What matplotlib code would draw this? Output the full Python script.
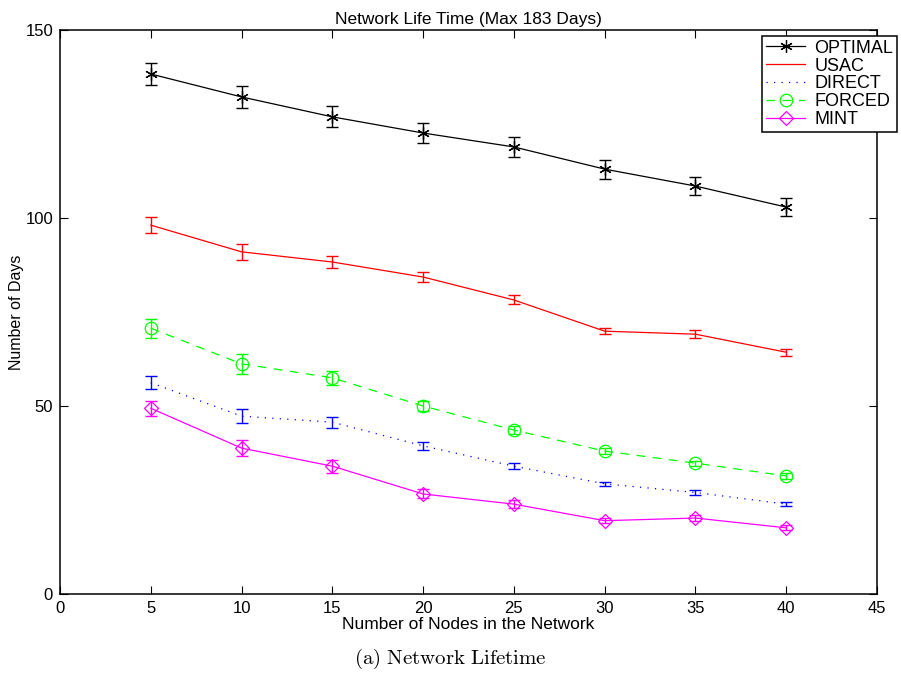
import numpy as np
import matplotlib
matplotlib.use("Agg")
import matplotlib.pyplot as plt

plt.rcParams['font.family'] = ['Liberation Sans', 'DejaVu Sans']
plt.rcParams['mathtext.fontset'] = 'cm'

## number of nodes
nodes = [5, 10, 15, 20, 25, 30, 35, 40]

## mean lifetime (days) and error half-widths
optimal = [138.3, 132.2, 126.9, 122.6, 118.9, 113.0, 108.5, 102.9]
optimal_err = [2.9, 2.9, 2.8, 2.7, 2.6, 2.5, 2.4, 2.3]
usac = [98.1, 91.0, 88.3, 84.3, 78.2, 69.9, 69.1, 64.3]
usac_err = [2.1, 2.1, 1.7, 1.4, 1.2, 0.8, 1.0, 0.9]
direct = [56.2, 47.3, 45.7, 39.4, 34.0, 29.3, 27.0, 23.9]
direct_err = [1.7, 1.9, 1.5, 1.0, 0.8, 0.6, 0.6, 0.5]
forced = [70.7, 61.2, 57.5, 50.0, 43.6, 38.0, 34.8, 31.4]
forced_err = [2.5, 2.6, 1.9, 1.3, 1.0, 0.8, 0.7, 0.7]
mint = [49.4, 38.8, 34.0, 26.6, 23.9, 19.5, 20.2, 17.6]
mint_err = [2.0, 2.1, 1.7, 1.2, 1.0, 0.7, 0.8, 0.7]

## matlab-ish line styles
dotted = (0, (1, 5))
dashed = (0, (7, 6))
series = [
    ("OPTIMAL", optimal, optimal_err, "black", "-", (6, 2, 0)),
    ("USAC", usac, usac_err, "#ff0000", "-", None),
    ("DIRECT", direct, direct_err, "#0000ff", dotted, None),
    ("FORCED", forced, forced_err, "#00ff00", dashed, "o"),
    ("MINT", mint, mint_err, "#ff00ff", "-", "D"),
]

fig = plt.figure(figsize=(9.01, 6.77), dpi=100)
ax = fig.add_axes([60/901, 1-594/677, 817/901, 564/677])

handles = []
for name, vals, err, col, ls, mk in series:
    ms = {"o": 9, "D": 7}.get(mk, 9) if mk is not None else 0
    ax.errorbar(nodes, vals, yerr=err, color=col, ecolor=col, linestyle="none",
                elinewidth=1.0, capsize=4.5, capthick=1.0)
    h, = ax.plot(nodes, vals, color=col, linestyle=ls, linewidth=0.9,
                 marker=mk, markersize=ms, markerfacecolor="none",
                 markeredgecolor=col, markeredgewidth=0.9, label=name)
    handles.append(h)

ax.set_xlim(0, 45)
ax.set_ylim(0, 150)
ax.set_xticks(np.arange(0, 46, 5))
ax.set_yticks([0, 50, 100, 150])
ax.tick_params(direction="in", top=True, right=True, length=6, labelsize=12, pad=5)
for s in ax.spines.values():
    s.set_linewidth(1.1)

ax.set_title("Network Life Time (Max 183 Days)", fontsize=12.5, pad=4)
ax.set_xlabel("Number of Nodes in the Network", fontsize=12.5, labelpad=1)
ax.set_ylabel("Number of Days", fontsize=11.5, labelpad=1)

leg = ax.legend(handles=handles, loc="upper right",
                bbox_to_anchor=(897/901, 1-36/677), bbox_transform=fig.transFigure,
                fancybox=False, shadow=False, framealpha=1, edgecolor="black",
                fontsize=13, handlelength=2.2, borderaxespad=0, borderpad=0.2,
                labelspacing=0.05, handletextpad=0.5)
leg.get_frame().set_linewidth(1.1)

fig.text(0.5, 1-659/677, r"$\mathrm{(a)\ Network\ Lifetime}$", ha="center",
         va="center", fontsize=15)

fig.savefig("out.png", dpi=100)
